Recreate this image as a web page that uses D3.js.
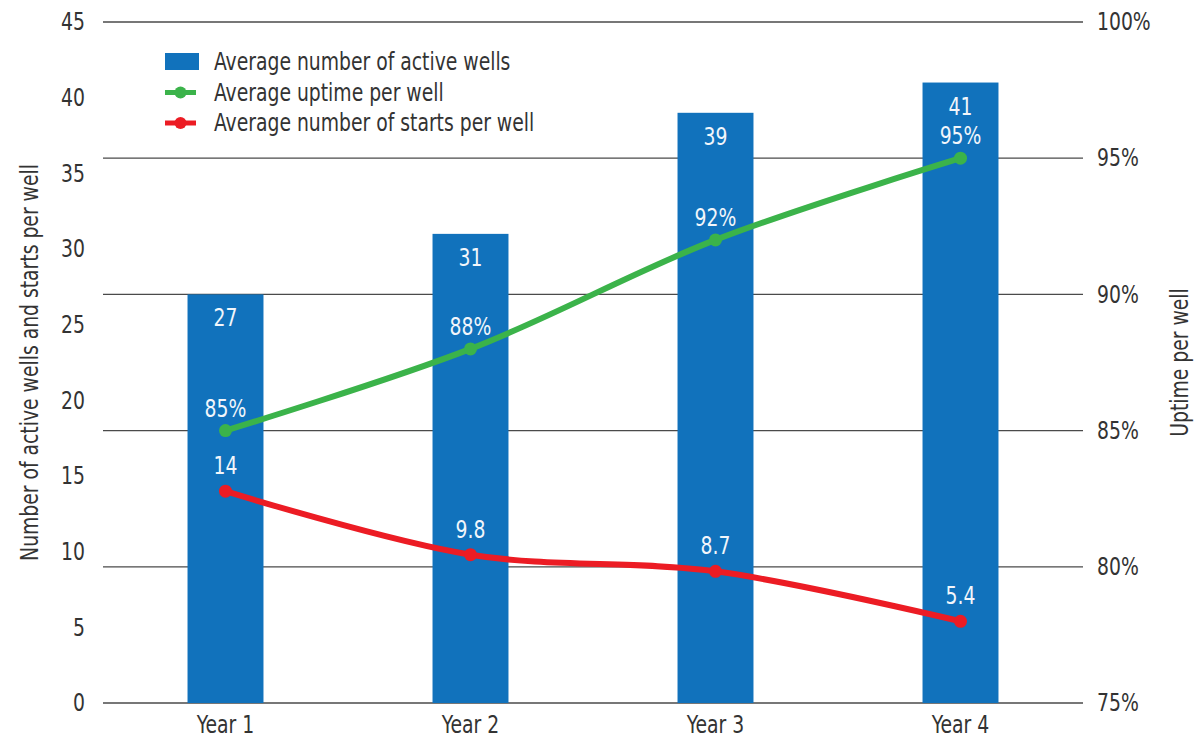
<!DOCTYPE html>
<html><head><meta charset="utf-8">
<script src="https://cdn.jsdelivr.net/npm/d3@7"></script>
<style>
body{margin:0;background:#fff;}
text{font-family:"Liberation Sans Narrow","DejaVu Sans Condensed","Roboto Condensed",sans-serif;}
</style></head>
<body><svg id="c" width="1204" height="739"></svg>
<script>
const categories = ["Year 1","Year 2","Year 3","Year 4"];
const activeWells = [27,31,39,41];
const uptime = [85,88,92,95];
const starts = [14,9.8,8.7,5.4];
const startLabels = ["14","9.8","8.7","5.4"];
const leftTicks = [0,5,10,15,20,25,30,35,40,45];
const rightTicks = [75,80,85,90,95,100];

const svg = d3.select("#c");
const W=1204,H=739;
const m={l:103,r:121,t:22,b:36};
const x = d3.scaleBand().domain(categories).range([m.l,W-m.r]).paddingInner(0.69).paddingOuter(0.345);
const yL = d3.scaleLinear().domain([0,45]).range([H-m.b,m.t]);
const yR = d3.scaleLinear().domain([75,100]).range([H-m.b,m.t]);

const blue="#1172bc", green="#3bb34a", red="#ec1c24", txt="#333";
const fs=24, SX=0.87;

function condense(sel){
  sel.each(function(){
    const t=d3.select(this);
    const tx=+(t.attr("x")||0), ty=+(t.attr("y")||0);
    const prev=t.attr("transform")||"";
    t.attr("transform",`${prev} translate(${tx},${ty}) scale(${SX},1) translate(${-tx},${-ty})`);
  });
}

// gridlines at right ticks
svg.append("g").selectAll("line").data(rightTicks).join("line")
  .attr("x1",m.l).attr("x2",W-m.r)
  .attr("y1",d=>yR(d)).attr("y2",d=>yR(d))
  .attr("stroke","#4a4a4a").attr("stroke-width",1.3);

// bars
svg.append("g").selectAll("rect").data(activeWells).join("rect")
  .attr("x",(d,i)=>x(categories[i])).attr("width",x.bandwidth())
  .attr("y",d=>yL(d)).attr("height",d=>yL(0)-yL(d))
  .attr("fill",blue);

// axes
const gl = svg.append("g").attr("transform",`translate(${m.l},0)`)
  .call(d3.axisLeft(yL).tickValues(leftTicks).tickSize(0).tickPadding(18));
gl.select(".domain").remove();
gl.selectAll("text").attr("font-size",fs).attr("fill",txt).call(condense);

const gr = svg.append("g").attr("transform",`translate(${W-m.r},0)`)
  .call(d3.axisRight(yR).tickValues(rightTicks).tickSize(0).tickPadding(14).tickFormat(d=>d+"%"));
gr.select(".domain").remove();
gr.selectAll("text").attr("font-size",fs).attr("fill",txt).call(condense);

const gb = svg.append("g").attr("transform",`translate(0,${H-m.b})`)
  .call(d3.axisBottom(x).tickSize(0).tickPadding(13));
gb.select(".domain").remove();
gb.selectAll("text").attr("font-size",fs).attr("fill",txt).call(condense);

// axis titles
svg.append("text").attr("transform",`translate(38,${(m.t+H-m.b)/2}) rotate(-90)`)
  .attr("text-anchor","middle").attr("font-size",fs).attr("fill",txt)
  .text("Number of active wells and starts per well").call(condense);
svg.append("text").attr("transform",`translate(1188,${(m.t+H-m.b)/2}) rotate(-90)`)
  .attr("text-anchor","middle").attr("font-size",fs).attr("fill",txt)
  .text("Uptime per well").call(condense);

const cx = i => x(categories[i])+x.bandwidth()/2;

// lines
const lineU = d3.line().x((d,i)=>cx(i)).y(d=>yR(d)).curve(d3.curveCatmullRom);
const lineS = d3.line().x((d,i)=>cx(i)).y(d=>yL(d)).curve(d3.curveCatmullRom);
svg.append("path").attr("d",lineU(uptime)).attr("fill","none").attr("stroke",green).attr("stroke-width",6);
svg.append("path").attr("d",lineS(starts)).attr("fill","none").attr("stroke",red).attr("stroke-width",6);
svg.append("g").selectAll("circle").data(uptime).join("circle")
  .attr("cx",(d,i)=>cx(i)).attr("cy",d=>yR(d)).attr("r",6.5).attr("fill",green);
svg.append("g").selectAll("circle").data(starts).join("circle")
  .attr("cx",(d,i)=>cx(i)).attr("cy",d=>yL(d)).attr("r",6.5).attr("fill",red);

// labels
const lab="#f2f6fb";
svg.append("g").selectAll("text").data(activeWells).join("text")
  .attr("x",(d,i)=>cx(i)).attr("y",d=>yL(d)+32).attr("text-anchor","middle")
  .attr("font-size",fs).attr("fill",lab).text(d=>d).call(condense);
svg.append("g").selectAll("text").data(uptime).join("text")
  .attr("x",(d,i)=>cx(i)).attr("y",d=>yR(d)-14).attr("text-anchor","middle")
  .attr("font-size",fs).attr("fill",lab).text(d=>d+"%").call(condense);
svg.append("g").selectAll("text").data(starts).join("text")
  .attr("x",(d,i)=>cx(i)).attr("y",d=>yL(d)-17).attr("text-anchor","middle")
  .attr("font-size",fs).attr("fill",lab).text((d,i)=>startLabels[i]).call(condense);

// legend
const legend = [
  {name:"Average number of active wells", type:"bar", color:blue},
  {name:"Average uptime per well", type:"line", color:green},
  {name:"Average number of starts per well", type:"line", color:red}
];
const lg = svg.append("g").attr("transform","translate(165,62)");
legend.forEach((d,i)=>{
  const g = lg.append("g").attr("transform",`translate(0,${i*30.5})`);
  if(d.type==="bar"){
    g.append("rect").attr("x",0).attr("y",-9).attr("width",34).attr("height",17).attr("fill",d.color);
  } else {
    g.append("line").attr("x1",0).attr("x2",31).attr("y1",0).attr("y2",0).attr("stroke",d.color).attr("stroke-width",5);
    g.append("circle").attr("cx",15.5).attr("cy",0).attr("r",6).attr("fill",d.color);
  }
  g.append("text").attr("x",49).attr("y",8).attr("font-size",fs).attr("fill",txt).text(d.name).call(condense);
});
</script></body></html>
